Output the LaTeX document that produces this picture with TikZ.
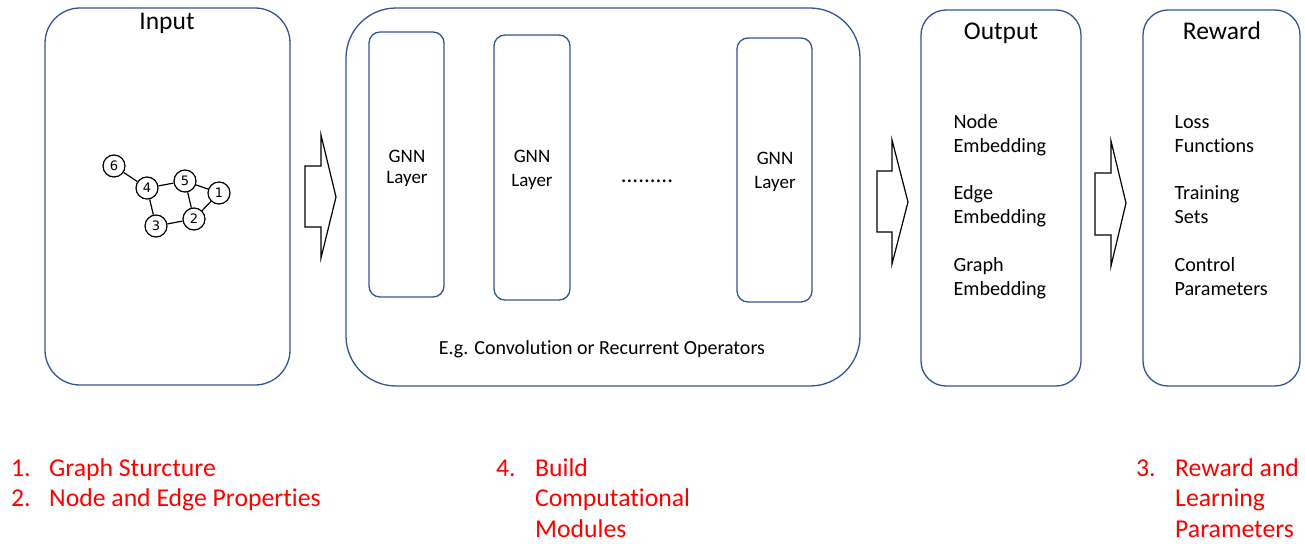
\documentclass[tikz,border=0pt]{standalone}
\usepackage{fontspec}
\setmainfont{Carlito}[Ligatures=NoCommon]
\newfontfamily\numfont{DejaVu Sans}
\definecolor{boxblue}{HTML}{2F5597}
\definecolor{redtxt}{HTML}{FF0000}
\tikzset{
  box/.style={draw=boxblue, line width=1.3pt, inner sep=0pt},
  gnode/.style={circle, draw, line width=1.2pt, minimum size=22pt, inner sep=0pt, font=\numfont\fontsize{13}{13}\selectfont},
  blockarrow/.style={draw, line width=1.2pt, fill=white, line join=miter},
  title/.style={anchor=base, font=\fontsize{25.5}{28}\selectfont},
  item/.style={anchor=base west, align=left, font=\fontsize{20.2}{24}\selectfont},
  layer/.style={anchor=base, align=center, font=\fontsize{19}{24}\selectfont},
  redlbl/.style={anchor=base west, align=left, text=redtxt, font=\fontsize{25.7}{30.5}\selectfont, inner sep=0pt},
}
\begin{document}
\begin{tikzpicture}[x=1pt, y=-1pt]
\useasboundingbox (0,0) rectangle (1305,543);

% main boxes
\node[box, rounded corners=35pt, minimum width=245pt, minimum height=377pt] (inbox) at (167.5,196.5) {};
\node[box, rounded corners=50pt, minimum width=514pt, minimum height=378pt] (gnnbox) at (603,197) {};
\node[box, rounded corners=11pt, minimum width=75pt, minimum height=265pt] (l1) at (406.5,164.5) {};
\node[box, rounded corners=11pt, minimum width=76pt, minimum height=265pt] (l2) at (532,167.5) {};
\node[box, rounded corners=11pt, minimum width=75pt, minimum height=264pt] (l3) at (774.5,170) {};
\node[box, rounded corners=25pt, minimum width=160pt, minimum height=376pt] (outbox) at (1001,198) {};
\node[box, rounded corners=25pt, minimum width=157pt, minimum height=376pt] (rewbox) at (1221.5,198) {};

% titles
\node[title] (tin) at (167,30) {Input};
\node[title] (tout) at (1001,40) {Output};
\node[title] (trew) at (1222,40) {Reward};

% GNN layer labels (base = last line)
\node[layer, font=\fontsize{19}{20.5}\selectfont] (t1) at (407,183) {GNN\\Layer};
\node[layer] (t2) at (532,186) {GNN\\Layer};
\node[layer] (t3) at (775,188) {GNN\\Layer};
\node[anchor=base, font=\fontsize{23}{23}\selectfont] (dots) at (647,182) {.........};
\node[anchor=base, font=\fontsize{20}{22}\selectfont] (eg) at (602,354) {E.g. Convolution or Recurrent Operators};

% output items (base = last line)
\node[item] (o1) at (950,152) {Node\\Embedding};
\node[item] (o2) at (950,223) {Edge\\Embedding};
\node[item] (o3) at (950,295) {Graph\\Embedding};
% reward items
\node[item] (r1) at (1171,152) {Loss\\Functions};
\node[item] (r2) at (1171,223) {Training\\Sets};
\node[item] (r3) at (1171,295) {Control\\Parameters};

% graph
\node[gnode] (n6) at (114,166) {6};
\node[gnode] (n4) at (147,188) {4};
\node[gnode] (n5) at (185,181) {5};
\node[gnode] (n1) at (219,193) {1};
\node[gnode] (n2) at (194,219) {2};
\node[gnode] (n3) at (156,226) {3};
\draw[line width=1.2pt] (n6) -- (n4);
\draw[line width=1.2pt] (n4) -- (n5);
\draw[line width=1.2pt] (n4) -- (n3);
\draw[line width=1.2pt] (n5) -- (n1);
\draw[line width=1.2pt] (n5) -- (n2);
\draw[line width=1.2pt] (n1) -- (n2);
\draw[line width=1.2pt] (n3) -- (n2);

% block arrows
\draw[blockarrow] (305,166) -- (321,166) -- (321,135) -- (336,197) -- (321,258) -- (321,227) -- (305,227) -- cycle;
\draw[blockarrow] (877,171) -- (892,171) -- (892,140) -- (908,202) -- (892,264) -- (892,232) -- (877,232) -- cycle;
\draw[blockarrow] (1095,173) -- (1111,173) -- (1111,141) -- (1126,203) -- (1111,266) -- (1111,235) -- (1095,235) -- cycle;

% red notes (base = last line)
\node[redlbl] (rn1) at (11,506.5) {1.\\2.};
\node[redlbl] (rt1) at (49,506.5) {Graph Sturcture\\Node and Edge Properties};
\node[redlbl] (rn4) at (496,476) {4.};
\node[redlbl] (rt4) at (535,537) {Build\\Computational\\Modules};
\node[redlbl] (rn3) at (1136,476) {3.};
\node[redlbl] (rt3) at (1175,537) {Reward and\\Learning\\Parameters};
\end{tikzpicture}
\end{document}
